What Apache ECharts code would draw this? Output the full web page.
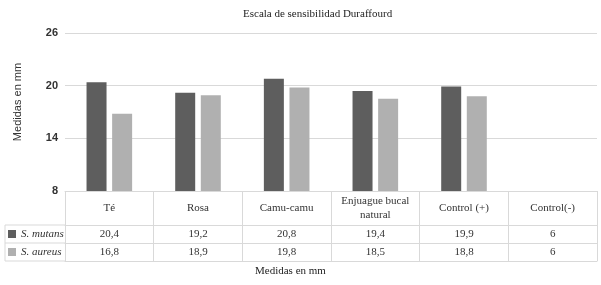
<!DOCTYPE html>
<html>
<head>
<meta charset="utf-8">
<script src="https://cdn.jsdelivr.net/npm/echarts@6/dist/echarts.min.js"></script>
<style>
  html, body { margin: 0; padding: 0; background: #fff; }
  #chart { width: 601px; height: 285px; }
</style>
</head>
<body>
<div id="chart"></div>
<script>
const categories = ['Té', 'Rosa', 'Camu-camu', 'Enjuague bucal\nnatural', 'Control (+)', 'Control(-)'];
const mutans = [20.4, 19.2, 20.8, 19.4, 19.9, 6];
const aureus = [16.8, 18.9, 19.8, 18.5, 18.8, 6];
const seriesNames = ['S. mutans', 'S. aureus'];
const yTicks = { min: 8, max: 26, step: 6 };

const serif = '"Liberation Serif", serif';
const sans = '"Liberation Sans", sans-serif';
const lineColor = '#d9d9d9';
const fmt = v => String(v).replace('.', ',');

const tableRow = (offset, values) => ({
  type: 'category',
  position: 'bottom',
  offset: offset,
  data: categories,
  axisLine: { show: true, lineStyle: { color: lineColor } },
  axisTick: { show: false },
  axisLabel: {
    interval: 0,
    margin: 9,
    verticalAlign: 'middle',
    fontFamily: serif,
    fontSize: 11,
    color: '#333',
    formatter: (v, i) => values ? fmt(values[i]) : ''
  }
});

const titleStyle = { fontFamily: serif, fontSize: 11, fontWeight: 'normal', color: '#222' };

const option = {
  animation: false,
  title: [
    { text: 'Escala de sensibilidad Duraffourd', left: 238, top: 4, textStyle: titleStyle },
    { text: 'Medidas en mm', left: 250, top: 261, textStyle: titleStyle }
  ],
  legend: {
    orient: 'vertical',
    left: 8,
    top: 227,
    padding: 0,
    itemWidth: 8,
    itemHeight: 8,
    itemGap: 4,
    icon: 'rect',
    selectedMode: false,
    textStyle: { fontFamily: serif, fontSize: 11, fontStyle: 'italic', color: '#333', lineHeight: 14 },
    data: seriesNames
  },
  grid: { left: 65, right: 4, top: 33, height: 158, outerBoundsMode: 'none' },
  xAxis: [
    {
      type: 'category',
      data: categories,
      axisLine: { show: true, lineStyle: { color: lineColor } },
      axisTick: { show: true, length: 70, interval: 0, lineStyle: { color: lineColor } },
      axisLabel: {
        interval: 0,
        margin: 17,
        verticalAlign: 'middle',
        fontFamily: serif,
        fontSize: 11,
        lineHeight: 14,
        color: '#333'
      }
    },
    tableRow(34, mutans),
    tableRow(52, aureus),
    tableRow(70, null)
  ],
  yAxis: {
    type: 'value',
    min: yTicks.min,
    max: yTicks.max,
    interval: yTicks.step,
    name: 'Medidas en mm',
    nameLocation: 'middle',
    nameGap: 42,
    nameTextStyle: { fontFamily: sans, fontSize: 11, color: '#333', padding: [0, 0, 0, 20] },
    axisLine: { show: false },
    axisTick: { show: false },
    axisLabel: { margin: 7, fontFamily: sans, fontSize: 11, fontWeight: 'bold', color: '#333' },
    splitLine: { lineStyle: { color: lineColor, width: 1 } }
  },
  series: [
    {
      name: seriesNames[0],
      type: 'bar',
      data: mutans,
      barWidth: 20,
      barGap: '28%',
      itemStyle: { color: '#5e5e5e' }
    },
    {
      name: seriesNames[1],
      type: 'bar',
      data: aureus,
      barWidth: 20,
      itemStyle: { color: '#b0b0b0' }
    }
  ],
  graphic: [
    { type: 'line', shape: { x1: 5, y1: 225, x2: 65, y2: 225 }, style: { stroke: lineColor, lineWidth: 1 } },
    { type: 'line', shape: { x1: 5, y1: 243, x2: 65, y2: 243 }, style: { stroke: lineColor, lineWidth: 1 } },
    { type: 'line', shape: { x1: 5, y1: 261, x2: 65, y2: 261 }, style: { stroke: lineColor, lineWidth: 1 } },
    { type: 'line', shape: { x1: 5, y1: 225, x2: 5, y2: 261 }, style: { stroke: lineColor, lineWidth: 1 } }
  ]
};

const chart = echarts.init(document.getElementById('chart'));
chart.setOption(option);
</script>
</body>
</html>
